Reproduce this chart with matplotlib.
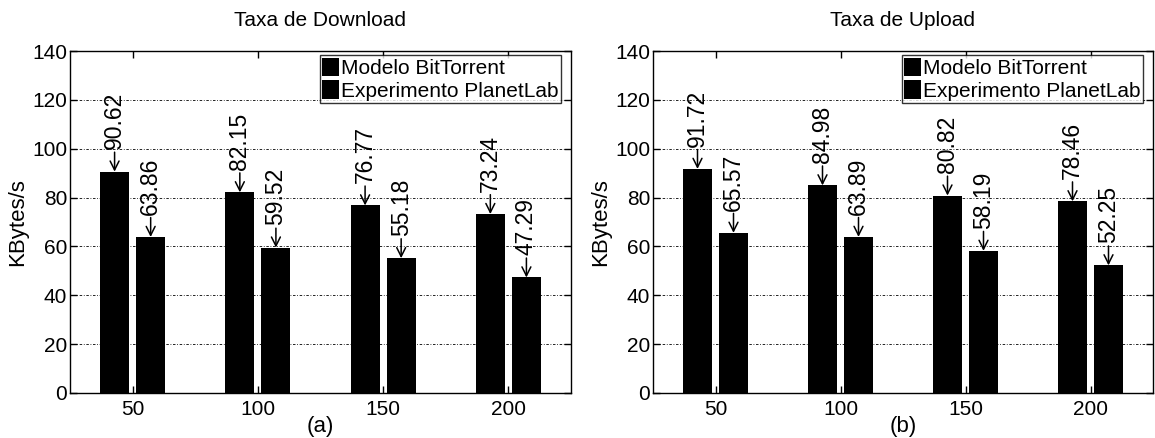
import numpy as np
import matplotlib.pyplot as plt

plt.rcParams['font.family'] = ['Liberation Sans', 'DejaVu Sans']

peers = [50, 100, 150, 200]
download_modelo = [90.62, 82.15, 76.77, 73.24]
download_planetlab = [63.86, 59.52, 55.18, 47.29]
upload_modelo = [91.72, 84.98, 80.82, 78.46]
upload_planetlab = [65.57, 63.89, 58.19, 52.25]

W, H = 1155, 438
fig = plt.figure(figsize=(W / 100, H / 100), dpi=100)


def panel(rect, modelo, planetlab, title, sub):
    ax = fig.add_axes(rect)
    x = np.array(peers, dtype=float)
    off, bw = 7.2, 11.6
    ax.bar(x - off, modelo, bw, color='k', label='Modelo BitTorrent')
    ax.bar(x + off, planetlab, bw, color='k', label='Experimento PlanetLab')
    for xs, vals in ((x - off, modelo), (x + off, planetlab)):
        for xi, v in zip(xs, vals):
            ax.annotate('%.2f' % v, xy=(xi, v), xytext=(0, 16),
                        textcoords='offset points', rotation=90,
                        ha='center', va='bottom', fontsize=16.5,
                        arrowprops=dict(arrowstyle='->', color='k', lw=1.1,
                                        shrinkA=0, shrinkB=0,
                                        mutation_scale=16))
    ax.set_xlim(25, 225)
    ax.set_ylim(0, 140)
    ax.set_xticks(peers)
    ax.set_yticks(range(0, 141, 20))
    ax.tick_params(direction='in', top=True, right=True, labelsize=15,
                   length=5, width=1, pad=2)
    ax.tick_params(axis='x', pad=5)
    ax.yaxis.grid(True, linestyle=(0, (1, 2, 3, 2)), color='k', lw=0.6)
    ax.set_axisbelow(True)
    for s in ax.spines.values():
        s.set_linewidth(1)
    ax.set_title(title, fontsize=15, pad=18)
    ax.set_ylabel('KBytes/s', fontsize=16, labelpad=3)
    ax.set_xlabel(sub, fontsize=16, labelpad=-2)
    leg = ax.legend(loc='upper right', fontsize=15, frameon=True, fancybox=False,
                    edgecolor='k', borderpad=0.12, handlelength=0.8,
                    handleheight=1.0, handletextpad=0.1, labelspacing=0.1,
                    borderaxespad=0.0, bbox_to_anchor=(0.98, 0.988))
    leg.get_frame().set_linewidth(1)
    return ax


bottom = 1 - 393 / H
height = 342 / H
panel([70 / W, bottom, 501 / W, height], download_modelo, download_planetlab,
      'Taxa de Download', '(a)')
panel([653 / W, bottom, 500 / W, height], upload_modelo, upload_planetlab,
      'Taxa de Upload', '(b)')

fig.savefig('out.png', dpi=100)
